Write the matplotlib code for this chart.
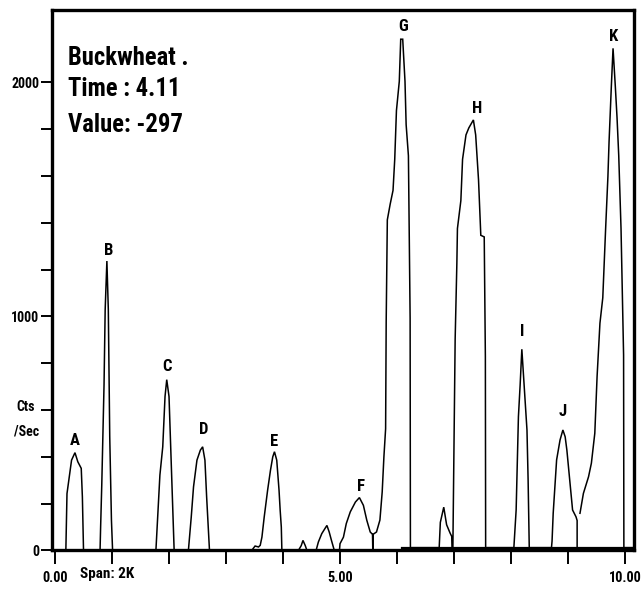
import numpy as np
import matplotlib
matplotlib.use("Agg")
import matplotlib.pyplot as plt
from matplotlib import font_manager as fm

# ---------------- data ----------------
energy_kev = [
    -0.06, 0.19, 0.20, 0.21, 0.25, 0.29, 0.35, 0.40, 0.46, 0.48, 0.50,          # A
    0.79, 0.80, 0.82, 0.86, 0.88, 0.91, 0.935, 0.96, 0.99, 1.01,              # B
    1.77, 1.84, 1.89, 1.93, 1.96, 2.00, 2.03, 2.06, 2.09,                    # C
    2.34, 2.39, 2.43, 2.49, 2.55, 2.59, 2.63, 2.66, 2.71,                    # D
    3.45, 3.51, 3.57, 3.60, 3.63, 3.67, 3.73, 3.78, 3.82, 3.85, 3.89, 3.93, 3.95, 3.97, 3.98,  # E
    4.27, 4.32, 4.35, 4.39, 4.42,
    4.58, 4.62, 4.68, 4.77, 4.81, 4.85, 4.90,
    4.99, 5.00, 5.06, 5.11, 5.18, 5.27, 5.34, 5.41, 5.47, 5.53, 5.57, 5.575, 5.58,  # F
    5.64, 5.70, 5.74, 5.77, 5.80, 5.81, 5.83, 5.88, 5.93, 5.96, 5.99, 6.04, 6.065, 6.10,
    6.14, 6.16, 6.20, 6.23, 6.235,                                            # G
    6.74, 6.76, 6.82, 6.87, 6.93, 6.96, 6.965,
    6.98, 7.00, 7.02, 7.05, 7.06, 7.12, 7.15, 7.21, 7.26, 7.34, 7.38, 7.43, 7.47,
    7.53, 7.55, 7.555,                                                        # H
    8.05, 8.09, 8.13, 8.16, 8.19, 8.23, 8.28, 8.30, 8.32,                    # I
    8.71, 8.72, 8.74, 8.80, 8.86, 8.91, 8.95, 8.98, 9.04, 9.08, 9.14, 9.16, 9.16, 9.185,  # J
    9.21, 9.27, 9.36, 9.41, 9.47, 9.51, 9.56, 9.61, 9.66, 9.70, 9.72, 9.76,
    9.79, 9.83, 9.86, 9.89, 9.93, 9.975, 9.98, 10.16,                        # K
]
counts_per_sec = [
    0, 0, 120, 243, 315, 386, 418, 379, 351, 229, 0,
    0, 100, 279, 708, 1030, 1237, 1030, 486, 129, 0,
    0, 322, 443, 658, 730, 658, 443, 229, 0,
    0, 143, 272, 386, 429, 443, 386, 229, 0,
    0, 19, 15, 22, 57, 143, 258, 343, 400, 422, 386, 258, 172, 100, 0,
    0, 21, 43, 21, 0,
    0, 36, 72, 107, 79, 43, 0,
    0, 29, 57, 115, 165, 207, 226, 193, 129, 79, 69, 0, 69,
    79, 130, 250, 400, 520, 977, 1413, 1480, 1539, 1672, 1880, 2005, 2185, 2185,
    2005, 1820, 1687, 992, 12,
    12, 120, 185, 110, 75, 60, 12,
    12, 459, 903, 1228, 1376, 1495, 1672, 1776, 1806, 1840, 1776, 1584, 1347,
    1340, 829, 12,
    12, 173, 572, 707, 860, 707, 515, 301, 12,
    12, 40, 159, 387, 472, 515, 486, 429, 273, 173, 144, 128, 12, np.nan,
    159, 244, 315, 373, 501, 743, 971, 1080, 1376, 1598, 1746, 1983,
    2146, 1983, 1850, 1687, 1376, 835, 12, 12,
]
baseline_kev = [6.08, 10.16]
baseline_counts = [12, 12]

peak_names = ["A", "B", "C", "D", "E", "F", "G", "H", "I", "J", "K"]
peak_label_kev = [0.35, 0.935, 1.96, 2.60, 3.85, 5.37, 6.10, 7.40, 8.19, 8.91, 9.80]
peak_label_counts = [472, 1284, 785, 515, 465, 273, 2238, 1890, 935, 593, 2196]

y_tick_values = [0, 200, 400, 600, 800, 1000, 1200, 1400, 1600, 1800, 2000]
y_tick_labels = ["0", "", "", "", "", "1000", "", "", "", "", "2000"]
x_tick_values = [0, 1, 2, 3, 4, 5, 6, 7, 8, 9, 10]
x_tick_labels = ["0.00", "", "", "", "", "5.00", "", "", "", "", "10.00"]

info_lines = ["Buckwheat .", "Time : 4.11", "Value: -297"]

# ---------------- fonts: prefer a narrow sans ----------------
def pick_font():
    cands = [("Liberation Sans Narrow", "normal", None),
             ("Roboto Condensed", "normal", None),
             ("Open Sans Condensed", "normal", None),
             ("Noto Sans", "condensed", "ondensed"),
             ("Roboto", "condensed", "ondensed"),
             ("Open Sans", "condensed", "ondensed"),
             ("DejaVu Sans", "condensed", "ondensed")]
    for fam, stretch, key in cands:
        try:
            fp = fm.FontProperties(family=fam, stretch=stretch, weight="bold")
            path = fm.findfont(fp, fallback_to_default=False)
        except Exception:
            continue
        if key is None or key in path:
            return fam, stretch
    return "Liberation Sans", "normal"

FAM, STRETCH = pick_font()
plt.rcParams["font.family"] = [FAM, "DejaVu Sans"]
plt.rcParams["font.stretch"] = STRETCH

# ---------------- figure ----------------
fig = plt.figure(figsize=(6.44, 5.89), dpi=100)
fig.patch.set_facecolor("white")
ax = fig.add_axes([0.0803, 0.0654, 0.9042, 0.9177])
renderer = fig.canvas.get_renderer()


def fit_size(text, base, target_px, lo, hi):
    t = fig.text(0, 0, text, fontsize=base, fontweight="bold", fontstretch=STRETCH)
    w = t.get_window_extent(renderer).width
    t.remove()
    return float(np.clip(base * target_px / w, lo, hi))


fs_info = fit_size("Value: -297", 20, 115, 15, 21)
fs_tick = fit_size("2000", 10, 28, 8, 10.5)
fs_xtick = fit_size("10.00", 10, 33, 8, 11)
fs_span = fit_size("Span: 2K", 10, 55, 8, 11)
fs_peak = min(12.5, fs_tick * 1.2)

ax.plot(energy_kev, counts_per_sec, color="black", lw=1.1, solid_joinstyle="miter")
ax.plot(baseline_kev, baseline_counts, color="black", lw=1.6)

ax.set_xlim(-0.058, 10.158)
ax.set_ylim(0, 2310)

for sp in ax.spines.values():
    sp.set_linewidth(2.4)
    sp.set_color("black")

ax.set_yticks(y_tick_values)
ax.set_yticklabels(y_tick_labels)
ax.set_xticks(x_tick_values)
ax.set_xticklabels(x_tick_labels)
ax.tick_params(axis="y", direction="out", length=8, width=1.4, pad=1,
               labelsize=fs_tick, colors="black")
ax.tick_params(axis="x", direction="out", length=10, width=1.4, pad=5,
               labelsize=fs_xtick, colors="black")
for lab in ax.get_xticklabels() + ax.get_yticklabels():
    lab.set_fontweight("bold")
    lab.set_fontstretch(STRETCH)

for name, xk, yc in zip(peak_names, peak_label_kev, peak_label_counts):
    ax.text(xk, yc, name, ha="center", va="center", fontsize=fs_peak,
            fontweight="bold", color="black")

info_y = [0.898, 0.840, 0.775]
for line, yy in zip(info_lines, info_y):
    ax.text(0.0285, yy, line, transform=ax.transAxes, ha="left", va="baseline",
            fontsize=fs_info, fontweight="bold", color="black")

# axis annotations in figure pixels
fig.text(26 / 644, 1 - 407 / 589, "Cts", ha="center", va="center",
         fontsize=fs_tick, fontweight="bold")
fig.text(27 / 644, 1 - 431 / 589, "/Sec", ha="center", va="center",
         fontsize=fs_tick, fontweight="bold")
fig.text(107.5 / 644, 1 - 574 / 589, "Span: 2K", ha="center", va="center",
         fontsize=fs_span, fontweight="bold")

fig.savefig("out.png", dpi=100, facecolor="white")
